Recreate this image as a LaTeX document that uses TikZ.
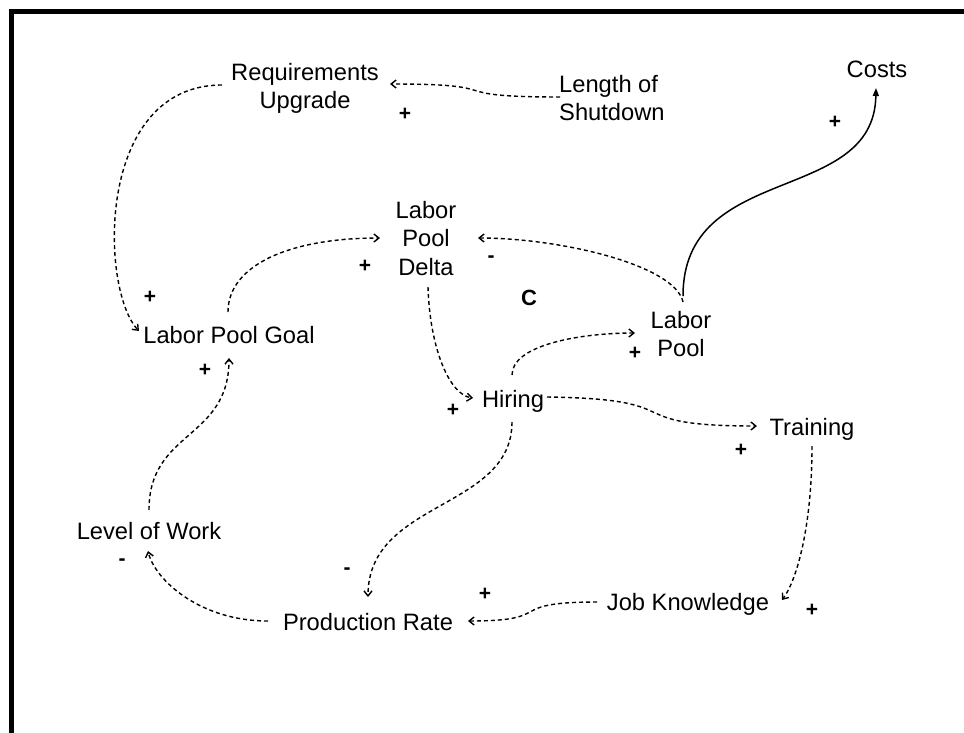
\documentclass[tikz,border=0pt]{standalone}
\usepackage{fontspec}
\setmainfont{Liberation Sans}
\usetikzlibrary{arrows.meta,calc}
\begin{document}
\begin{tikzpicture}[x=1pt,y=-1pt,
  var/.style={inner sep=0pt, anchor=base, align=center,
    font=\fontsize{23.7}{28.8}\selectfont},
  sign/.style={inner sep=0pt, font=\fontsize{21}{24}\selectfont\bfseries},
  link/.style={line width=1.4pt, dash pattern=on 4pt off 3pt,
    -{Straight Barb[length=5pt,width=8pt]}},
  solidlink/.style={line width=1.5pt, -{Triangle[length=8pt,width=6pt]}}]
\useasboundingbox (0,0) rectangle (964,732);
% frame
\draw[line width=5pt] (11.5,740) -- (11.5,11.5) -- (970,11.5);

% variables (base = baseline of the last line)
\node[var] (ru) at (305,108.8) {Requirements\\Upgrade};
\node[var, anchor=base west, align=left] (ls) at (559,120.8) {Length of\\Shutdown};
\node[var] (costs) at (877,77) {Costs};
\node[var] (lpd) at (426,275.6) {Labor\\Pool\\Delta};
\node[var] (lp) at (681,356.8) {Labor\\Pool};
\node[var] (lpg) at (229,343) {Labor Pool Goal};
\node[var] (hiring) at (513,407) {Hiring};
\node[var] (training) at (812,435) {Training};
\node[var] (low) at (149,539) {Level of Work};
\node[var] (pr) at (368,630) {Production Rate};
\node[var] (jk) at (688,610) {Job Knowledge};

% loop label
\node[inner sep=0pt, font=\fontsize{22}{24}\selectfont\bfseries] (loop) at (529,298) {C};

% polarities
\node[sign] (s1) at (405,114) {+};
\node[sign] (s2) at (835,122) {+};
\node[sign] (s3) at (365,266) {+};
\node[sign] (s4) at (491,259) {-};
\node[sign] (s5) at (150,297) {+};
\node[sign] (s6) at (205,370) {+};
\node[sign] (s7) at (635,353) {+};
\node[sign] (s8) at (453,410) {+};
\node[sign] (s9) at (741,450) {+};
\node[sign] (s10) at (122,562) {-};
\node[sign] (s11) at (347,571) {-};
\node[sign] (s12) at (485,594) {+};
\node[sign] (s13) at (812,610) {+};

% causal links
\draw[link] ($(ls.base west)+(1,-23.8)$) .. controls +(-125,0) and +(125,0) .. ($(ru.base)+(85,-24.8)$);
\draw[link] ($(ru.base)+(-83,-23.8)$) .. controls +(-127,0) and +(-39,-41) .. ($(lpg.base)+(-90,-12)$);
\draw[link] ($(lpg.base)+(-1,-31)$) .. controls +(0,-47) and +(-90,0) .. ($(lpd.base)+(-46,-37.6)$);
\draw[link] ($(lp.base)+(2,-54.8)$) .. controls +(-8,-37) and +(82,0) .. ($(lpd.base)+(52,-37.6)$);
\draw[solidlink] ($(lp.base)+(2,-60.8)$) .. controls +(0,-135) and +(-2,118) .. ($(costs.base)+(-1,11)$);
\draw[link] ($(lpd.base)+(2,11.4)$) .. controls +(2,63) and +(-23,-3) .. ($(hiring.base)+(-40,-9)$);
\draw[link] ($(hiring.base)+(-1,-32)$) .. controls +(0,-30) and +(-55,0) .. ($(lp.base)+(-46,-23.8)$);
\draw[link] ($(hiring.base)+(34,-10)$) .. controls +(150,2) and +(-145,0) .. ($(training.base)+(-55,-9)$);
\draw[link] ($(training.base)+(0,11)$) .. controls +(0,80) and +(15,-20) .. ($(jk.base)+(94,-10)$);
\draw[link] ($(jk.base)+(-91,-8)$) .. controls +(-95,0) and +(90,0) .. ($(pr.base)+(100,-9)$);
\draw[link] ($(hiring.base)+(-1,15)$) .. controls +(0,88) and +(0,-97) .. ($(pr.base)+(0,-33)$);
\draw[link] ($(pr.base)+(-100,-9)$) .. controls +(-68,0) and +(7,29) .. ($(low.base)+(-1,12)$);
\draw[link] ($(low.base)+(0,-29)$) .. controls +(0,-80) and +(0,82) .. ($(lpg.base)+(0,15)$);
\end{tikzpicture}
\end{document}
